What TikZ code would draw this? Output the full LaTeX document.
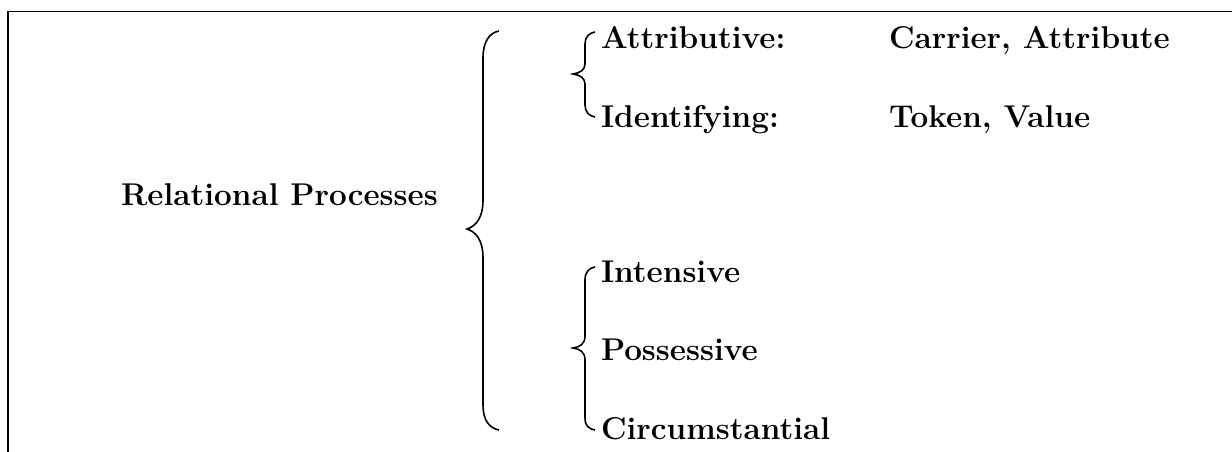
\documentclass[tikz,border=0pt]{standalone}
\begin{document}
\begin{tikzpicture}[x=0.75pt,y=-0.75pt,
  lbl/.style={anchor=base west,inner sep=0pt,outer sep=0pt,font=\fontsize{23.6}{28}\selectfont\bfseries},
  frame/.style={line width=1pt},
  brace/.style={line width=1.2pt}]
\useasboundingbox (0,0) rectangle (1232,452);
% frame
\coordinate (fa) at (1232,11.5);
\coordinate (fb) at (8,11.5);
\coordinate (fc) at (8,452);
\draw[frame] (fa) -- (fb) -- (fc);
% labels
\node[lbl] (rel) at (121,205.5) {Relational Processes};
\node[lbl] (att) at (601,49) {Attributive:};
\node[lbl] (ide) at (601,127.5) {Identifying:};
\node[lbl] (car) at (889,49) {Carrier, Attribute};
\node[lbl] (tok) at (889,127.5) {Token, Value};
\node[lbl] (int) at (601,283) {Intensive};
\node[lbl] (pos) at (601,361) {Possessive};
\node[lbl] (cir) at (601,439) {Circumstantial};
% big brace
\draw[brace] (499,31) .. controls (489,33) and (483,42) .. (483,58) -- (483,200)
  .. controls (483,218) and (476,226) .. (467,229)
  .. controls (476,232) and (483,240) .. (483,258) -- (483,405)
  .. controls (483,420) and (489,428) .. (499,430);
% small brace 1
\draw[brace] (595,32) .. controls (589,33) and (585,37) .. (585,44) -- (585,64)
  .. controls (585,70) and (580,73) .. (573,74)
  .. controls (580,75) and (585,78) .. (585,84) -- (585,105)
  .. controls (585,112) and (589,116) .. (595,117);
% small brace 2
\draw[brace] (595,267) .. controls (589,268) and (585,272) .. (585,280) -- (585,336)
  .. controls (585,344) and (580,347) .. (573,348)
  .. controls (580,349) and (585,352) .. (585,360) -- (585,418)
  .. controls (585,426) and (589,429) .. (595,430);
\end{tikzpicture}
\end{document}
